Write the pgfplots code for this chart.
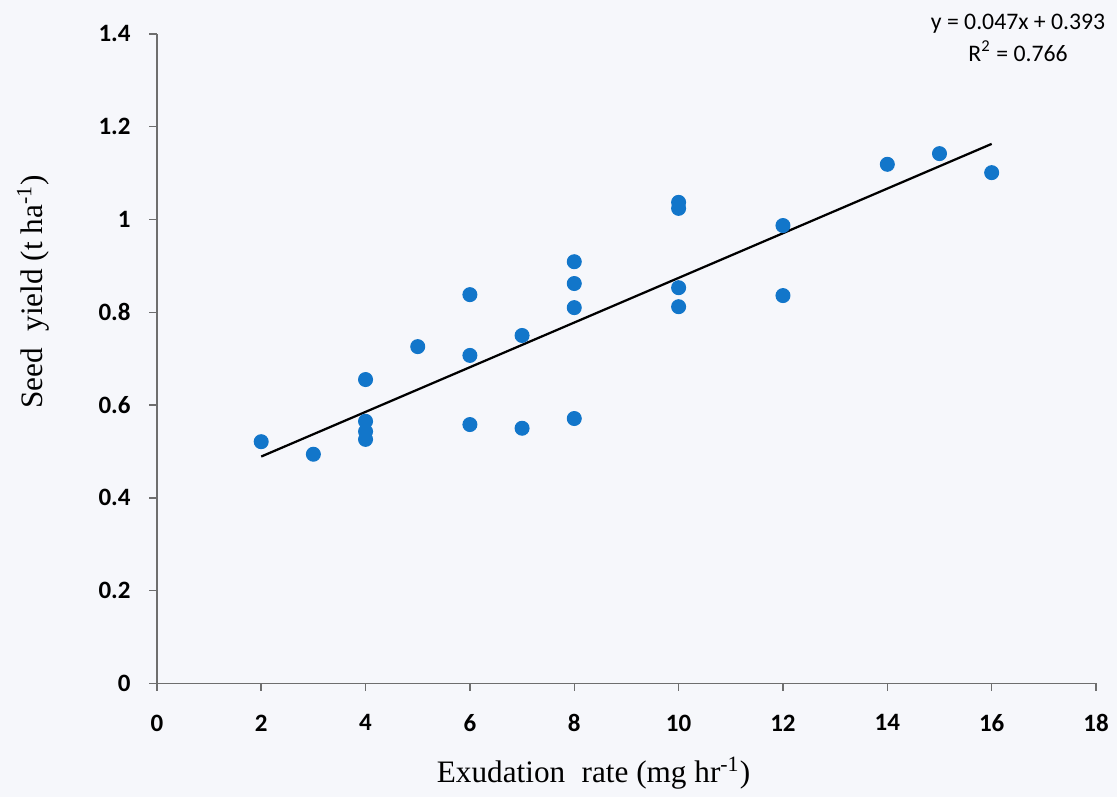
\documentclass[border=0pt]{standalone}
\usepackage{pgfplots}
\pgfplotsset{compat=1.18}
\usepackage{fontspec}
\setmainfont{Liberation Serif}
\newfontfamily\calibri{Carlito}
\definecolor{dotblue}{RGB}{18,118,202}
\definecolor{axgray}{RGB}{110,110,110}
\definecolor{bgcol}{RGB}{246,247,251}
\pagecolor{bgcol}
\begin{document}
\begin{tikzpicture}
\begin{axis}[
  scale only axis,
  width=376pt, height=260pt,
  xmin=0, xmax=18, ymin=0, ymax=1.4,
  xtick={0,2,...,18},
  ytick={0,0.2,...,1.4},
  axis x line*=bottom, axis y line*=left,
  axis line style={axgray, line width=0.6pt},
  tick style={axgray, line width=0.6pt},
  tick align=outside, major tick length=3pt,
  tick label style={font=\calibri\bfseries\fontsize{10}{11}\selectfont},
  /pgf/number format/assume math mode=true,
  xticklabel style={yshift=-6pt},
  yticklabel style={xshift=-4pt},
  xlabel={Exudation\; rate (mg hr\textsuperscript{-1})},
  ylabel={Seed\; yield (t ha\textsuperscript{-1})},
  label style={font=\fontsize{12.5}{15}\selectfont},
  xlabel style={at={(axis description cs:0.465,-0.138)}, anchor=center},
  ylabel style={at={(axis description cs:-0.132,0.603)}, anchor=center, rotate=0},
  clip=false,
]
% measured points
\addplot[only marks, mark=*, mark size=2.8pt, color=dotblue] coordinates {
  (2,0.521) (3,0.494)
  (4,0.655) (4,0.565) (4,0.543) (4,0.526)
  (5,0.726)
  (6,0.838) (6,0.707) (6,0.558)
  (7,0.750) (7,0.550)
  (8,0.909) (8,0.862) (8,0.810) (8,0.571)
  (10,1.037) (10,1.024) (10,0.853) (10,0.812)
  (12,0.987) (12,0.836)
  (14,1.119) (15,1.142) (16,1.101)
};
% linear trend line
\addplot[black, line width=0.9pt] coordinates {(2,0.489) (16,1.163)};
\node[align=center, font=\calibri\fontsize{9.5}{12.5}\selectfont]
  at (axis description cs:0.917,0.994) {y = 0.047x + 0.393\\R\textsuperscript{2} = 0.766};
\path (axis description cs:-0.167,-0.1646) rectangle (axis description cs:1.0213,1.0523);
\end{axis}
\end{tikzpicture}
\end{document}
